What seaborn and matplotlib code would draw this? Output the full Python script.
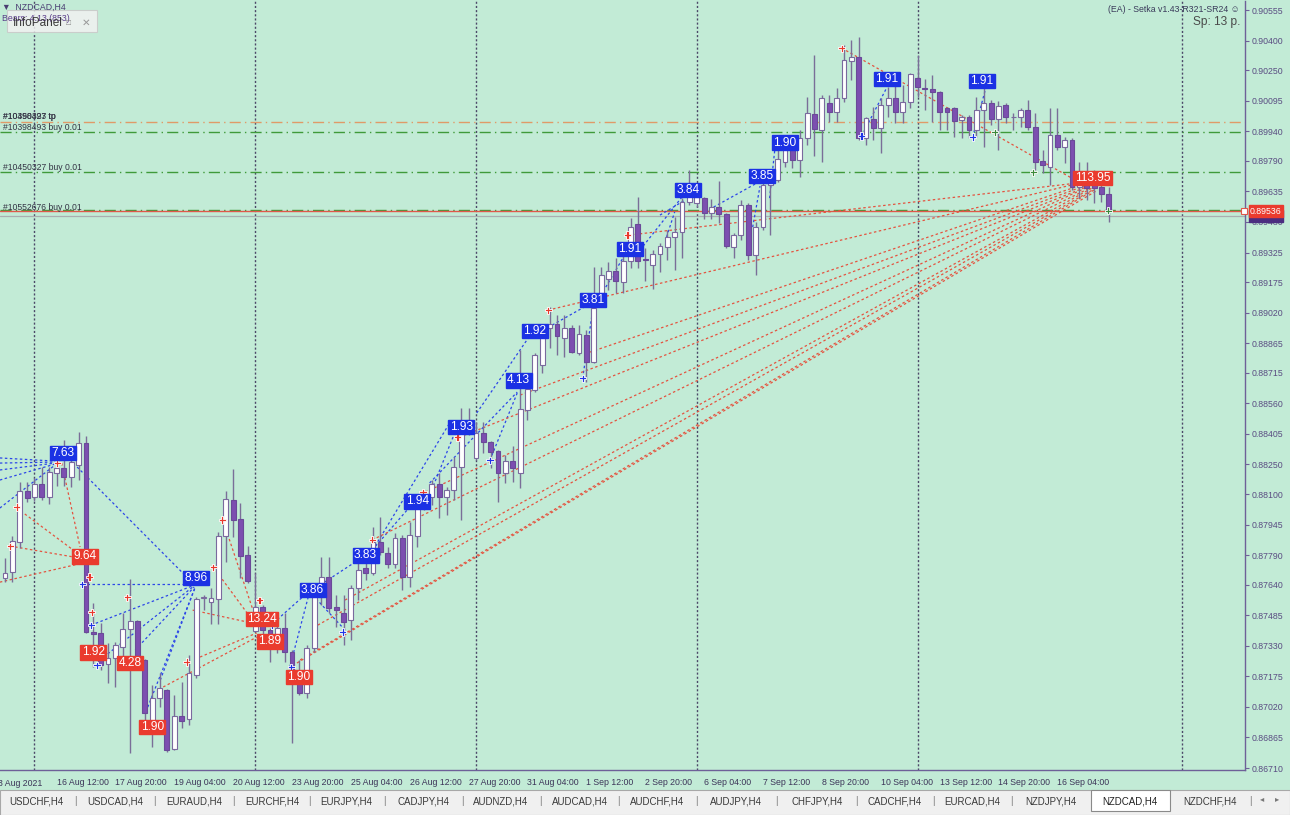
import numpy as np
import pandas as pd
import matplotlib
matplotlib.use('Agg')
import matplotlib.pyplot as plt
import seaborn as sns

W, H = 1290, 815
BG = '#c2ebd6'

# NZDCAD H4 candles, prices in points (price * 1e5), one entry per bar
opens = [87674, 87704, 87856, 88115, 88085, 88151, 88085, 88206, 88232, 88186,
         88247, 88359, 87400, 87395, 87238, 87268, 87324, 87415, 87456, 87258,
         86938, 87065, 87106, 86806, 86974, 86958, 87182, 87572, 87552, 87567,
         87887, 88069, 87973, 87790, 87405, 87527, 87410, 87374, 87420, 87298,
         87192, 87090, 87319, 87577, 87679, 87527, 87496, 87461, 87623, 87724,
         87699, 87856, 87801, 87745, 87877, 87679, 87887, 88054, 88085, 88151,
         88085, 88120, 88237, 88475, 88283, 88409, 88364, 88318, 88206, 88267,
         88206, 88526, 88628, 88754, 88942, 88962, 88891, 88942, 88815, 88907,
         88770, 89120, 89191, 89231, 89175, 89282, 89470, 89292, 89262, 89317,
         89353, 89404, 89429, 89581, 89576, 89601, 89525, 89556, 89520, 89353,
         89414, 89566, 89312, 89454, 89668, 89693, 89784, 89855, 89794, 89906,
         90028, 89947, 90084, 90038, 90109, 90296, 90317, 89906, 90002, 89957,
         90073, 90109, 90038, 90089, 90210, 90160, 90154, 90139, 90058, 90058,
         89997, 90012, 89947, 90048, 90084, 90002, 90073, 90012, 90012, 90048,
         89962, 89789, 89759, 89921, 89860, 89896, 89657, 89673, 89683, 89657,
         89622]
highs = [87775, 87887, 88161, 88161, 88181, 88237, 88237, 88283, 88374, 88323,
         88414, 88394, 87547, 87445, 87344, 87349, 87496, 87669, 87461, 87263,
         87131, 87192, 87111, 87080, 87146, 87283, 87577, 87588, 87623, 87907,
         88115, 88227, 88054, 87836, 87699, 87537, 87420, 87445, 87496, 87309,
         87258, 87334, 87598, 87780, 87780, 87588, 87588, 87638, 87750, 87755,
         87932, 87983, 87831, 87902, 87892, 87958, 88069, 88120, 88171, 88206,
         88135, 88288, 88536, 88536, 88465, 88465, 88369, 88323, 88298, 88343,
         88830, 88678, 88815, 88917, 89049, 89008, 89008, 88957, 88957, 88932,
         89252, 89252, 89277, 89297, 89312, 89500, 89607, 89348, 89338, 89373,
         89439, 89505, 89601, 89744, 89617, 89607, 89596, 89688, 89525, 89424,
         89591, 89576, 89480, 89683, 89718, 89860, 89906, 89896, 89947, 90114,
         90327, 90124, 90124, 90160, 90378, 90403, 90418, 90012, 90063, 90109,
         90165, 90175, 90175, 90236, 90327, 90205, 90225, 90144, 90063, 90063,
         90023, 90023, 90114, 90160, 90099, 90094, 90084, 90033, 90058, 90099,
         90033, 89845, 90058, 90058, 89911, 89906, 89784, 89784, 89744, 89668,
         89657]
lows = [87653, 87653, 87826, 88059, 88064, 88069, 88049, 88141, 88141, 88135,
        88171, 87395, 87222, 87207, 87141, 87121, 87273, 86786, 87248, 86953,
        86816, 87019, 86791, 86801, 86913, 86928, 87166, 87511, 87440, 87440,
        87755, 87882, 87674, 87648, 87400, 87385, 87248, 87293, 87248, 86837,
        87080, 87065, 87298, 87537, 87496, 87425, 87334, 87359, 87562, 87664,
        87689, 87790, 87724, 87724, 87613, 87628, 87831, 88019, 88044, 87978,
        87993, 88069, 87968, 88399, 88272, 88308, 88232, 88059, 88156, 88161,
        88130, 88475, 88617, 88714, 88841, 88805, 88795, 88815, 88805, 88668,
        88765, 89099, 89135, 89120, 89120, 89246, 89246, 89180, 89140, 89226,
        89287, 89236, 89297, 89566, 89556, 89495, 89495, 89475, 89348, 89297,
        89388, 89287, 89211, 89439, 89414, 89683, 89759, 89754, 89708, 89870,
        89815, 89784, 89987, 89987, 90089, 90200, 89896, 89870, 89896, 89830,
        90012, 89982, 89982, 90058, 90114, 90048, 89987, 89947, 89947, 89911,
        89906, 89906, 89911, 89860, 89972, 89845, 89982, 89947, 89962, 89947,
        89744, 89728, 89668, 89845, 89779, 89642, 89601, 89591, 89576, 89581,
        89480]
closes = [87699, 87861, 88115, 88080, 88151, 88085, 88212, 88232, 88186, 88262,
          88359, 87400, 87390, 87232, 87268, 87334, 87415, 87456, 87258, 86989,
          87065, 87116, 86801, 86974, 86948, 87192, 87567, 87577, 87572, 87887,
          88075, 87968, 87785, 87659, 87527, 87410, 87334, 87420, 87298, 87192,
          87090, 87319, 87577, 87679, 87522, 87511, 87451, 87623, 87714, 87699,
          87856, 87806, 87745, 87877, 87679, 87892, 88054, 88085, 88151, 88085,
          88120, 88237, 88465, 88409, 88409, 88364, 88313, 88206, 88267, 88232,
          88531, 88633, 88805, 88896, 88962, 88901, 88942, 88820, 88912, 88770,
          89043, 89211, 89231, 89180, 89282, 89454, 89282, 89287, 89317, 89358,
          89404, 89429, 89581, 89612, 89607, 89525, 89556, 89520, 89358, 89414,
          89566, 89312, 89454, 89668, 89693, 89799, 89855, 89794, 89906, 90033,
          89952, 90109, 90038, 90109, 90302, 90317, 89906, 90007, 89957, 90073,
          90109, 90038, 90089, 90231, 90165, 90154, 90139, 90038, 90038, 89992,
          90012, 89947, 90048, 90084, 90002, 90068, 90012, 90015, 90048, 89962,
          89784, 89769, 89921, 89860, 89896, 89657, 89673, 89652, 89652, 89622,
          89536]

tick_idx = [7, 15, 23, 31, 39, 47, 55, 63, 71, 79, 87, 95, 103, 111, 119, 127, 135, 143]
tick_lbl = ['16 Aug 12:00', '17 Aug 20:00', '19 Aug 04:00', '20 Aug 12:00', '23 Aug 20:00',
            '25 Aug 04:00', '26 Aug 12:00', '27 Aug 20:00', '31 Aug 04:00', '1 Sep 12:00',
            '2 Sep 20:00', '6 Sep 04:00', '7 Sep 12:00', '8 Sep 20:00', '10 Sep 04:00',
            '13 Sep 12:00', '14 Sep 20:00', '16 Sep 04:00']
separators = [4, 34, 64, 94, 124, 160]
price_lbl = ['0.90555', '0.90400', '0.90250', '0.90095', '0.89940', '0.89790', '0.89635',
             '0.89480', '0.89325', '0.89175', '0.89020', '0.88865', '0.88715', '0.88560',
             '0.88405', '0.88250', '0.88100', '0.87945', '0.87790', '0.87640', '0.87485',
             '0.87330', '0.87175', '0.87020', '0.86865', '0.86710']

# order lines
tp_level = 0.89985
buy_levels = [0.89936, 0.89733, 0.89540]
bid = 0.89536
ask_line = 0.89512

# trade labels (bar index, price, text)
blue_lab_x = [7.9, 25.95, 41.8, 49.0, 56.0, 62.0, 69.8, 72.0, 79.9, 84.9, 92.8, 102.9, 106.0, 119.8, 132.7]
blue_lab_p = [0.88308, 0.87674, 0.87613, 0.87790, 0.88064, 0.88440, 0.88678, 0.88927, 0.89084,
              0.89343, 0.89642, 0.89713, 0.89881, 0.90205, 0.90195]
blue_lab_t = ['7.63', '8.96', '3.86', '3.83', '1.94', '1.93', '4.13', '1.92', '3.81', '1.91',
              '3.84', '3.85', '1.90', '1.91', '1.91']
red_lab_x = [10.9, 12.0, 17.0, 20.0, 34.9, 36.0, 39.9, 147.8]
red_lab_p = [0.87785, 0.87298, 0.87243, 0.86918, 0.87466, 0.87354, 0.87172, 0.89703]
red_lab_t = ['9.64', '1.92', '4.28', '1.90', '13.24', '1.89', '1.90', '113.95']

# dotted trade links (x0, p0, x1, p1)
blue_x0 = [-0.7, -0.7, -0.7, -0.7, -0.7, 9.8, 10.5, 11.7, 12.9, 17.7, 19.4, 21.1, 36.0, 38.7, 46.2,
           42.8, 49.9, 57.7, 48.9, 57.7, 65.9, 64.1, 72.0, 78.5, 80.6, 86.3, 89.0, 89.9, 95.1,
           101.6, 103.9, 116.4, 131.5]
blue_p0 = [0.88283, 0.88257, 0.88222, 0.88171, 0.88029, 0.88237, 0.87643, 0.87435, 0.87258,
           0.87309, 0.87019, 0.87156, 0.87430, 0.87222, 0.87410, 0.87638, 0.87816, 0.88095,
           0.87750, 0.88156, 0.88272, 0.88511, 0.88907, 0.88688, 0.89084, 0.89338, 0.89515,
           0.89404, 0.89531, 0.89454, 0.89601, 0.89916, 0.89911]
blue_x1 = [6.8, 6.8, 6.8, 6.8, 6.8, 24.7, 25.4, 25.4, 25.5, 25.7, 25.8, 25.8, 40.9, 41.2, 41.8,
           48.0, 55.0, 61.1, 60.5, 69.6, 69.6, 71.1, 79.2, 79.9, 84.2, 92.0, 92.4, 91.0, 102.2,
           102.6, 104.6, 119.8, 133.2]
blue_p1 = [0.88267, 0.88262, 0.88257, 0.88252, 0.88247, 0.87679, 0.87643, 0.87633, 0.87628,
           0.87628, 0.87623, 0.87623, 0.87593, 0.87577, 0.87588, 0.87765, 0.88034, 0.88409,
           0.88465, 0.88617, 0.88612, 0.88891, 0.89059, 0.89043, 0.89312, 0.89607, 0.89591,
           0.89531, 0.89678, 0.89662, 0.89845, 0.90160, 0.90149]
red_x0 = [84.9, 73.8, 79.5, 70.0, 61.8, 57.1, 49.9, 46.2, 42.5, 40.1, 38.5, 113.7,
          1.6, 0.7, -0.7, 7.7, 25.5, 28.3, 29.6, 26.5, 21.5]
red_p0 = [0.89414, 0.89033, 0.88820, 0.88602, 0.88389, 0.88110, 0.87867, 0.87562, 0.87435,
          0.87258, 0.87217, 0.90362, 0.88029, 0.87836, 0.87653, 0.88257, 0.87511, 0.87729,
          0.87968, 0.87273, 0.87121]
red_x1 = [145.8, 146.1, 146.3, 146.6, 146.9, 147.1, 147.4, 147.7, 148.0, 148.2, 148.5, 145.4,
          10.2, 10.2, 10.6, 10.2, 32.9, 33.3, 33.7, 34.2, 34.2]
red_p1 = [0.89678, 0.89678, 0.89668, 0.89662, 0.89657, 0.89657, 0.89652, 0.89652, 0.89647,
          0.89647, 0.89642, 0.89693, 0.87790, 0.87775, 0.87750, 0.87831, 0.87451, 0.87476,
          0.87511, 0.87395, 0.87374]

# entry arrows
red_mk_x = [1.6, 0.7, 7.1, 11.5, 11.8, 16.6, 24.7, 29.5, 28.3, 34.6, 49.9, 56.8, 61.5, 73.8, 84.6, 113.7]
red_mk_p = [0.88034, 0.87836, 0.88257, 0.87679, 0.87501, 0.87577, 0.87248, 0.87968, 0.87729,
            0.87562, 0.87867, 0.88110, 0.88389, 0.89033, 0.89414, 0.90362]
blue_mk_x = [10.5, 11.7, 12.5, 36.3, 38.9, 45.9, 65.9, 78.5, 116.4, 131.5]
blue_mk_p = [0.87643, 0.87435, 0.87232, 0.87435, 0.87222, 0.87400, 0.88272, 0.88688, 0.89916, 0.89911]
green_mk_x = [139.7, 149.9, 134.5]
green_mk_p = [0.89733, 0.89536, 0.89936]

tabs = ['USDCHF,H4', 'USDCAD,H4', 'EURAUD,H4', 'EURCHF,H4', 'EURJPY,H4', 'CADJPY,H4',
        'AUDNZD,H4', 'AUDCAD,H4', 'AUDCHF,H4', 'AUDJPY,H4', 'CHFJPY,H4', 'CADCHF,H4',
        'EURCAD,H4', 'NZDJPY,H4', 'NZDCAD,H4', 'NZDCHF,H4']
tab_centers = [36, 115, 194, 272, 346, 423, 501, 580, 657, 736, 817, 895, 972, 1051, 1130, 1210]


def fx(x):
    return x / W


def fy(y):
    return 1 - y / H


sns.set_style('white', {'axes.facecolor': BG, 'figure.facecolor': BG})
plt.rcParams['font.family'] = ['Liberation Sans', 'DejaVu Sans']

df = pd.DataFrame({'o': opens, 'h': highs, 'l': lows, 'c': closes}) / 1e5
df['i'] = np.arange(len(df))
df['bull'] = df['c'] >= df['o']

fig = plt.figure(figsize=(W / 100, H / 100), dpi=100, facecolor=BG)
ax = fig.add_axes([0, fy(770), fx(1245), (770 - 1) / H])
ax.set_facecolor(BG)

ax.set_xlim(-0.68, 168.5)
ax.set_ylim(0.86700, 0.90601)

for s in separators:
    ax.axvline(s, color='#4c4868', ls=(0, (1.5, 1.5)), lw=1.0, zorder=1)

# order levels
ax.axhline(tp_level, color='#e09a68', ls=(0, (8, 3, 1, 3)), lw=1.0, zorder=1)
for lv in buy_levels:
    ax.axhline(lv, color='#3f9a3a', ls=(0, (8, 3, 1, 3)), lw=1.0, zorder=1)
ax.axhline(ask_line, color='#a9aeb0', lw=0.9, zorder=1)
ax.axhline(bid, color='#e0584a', lw=1.0, zorder=1)

# dotted links
for x0, p0, x1, p1 in zip(blue_x0, blue_p0, blue_x1, blue_p1):
    ax.plot([x0, x1], [p0, p1], color='#2c46e8', ls=(0, (2, 2)), lw=0.9, zorder=2)
for x0, p0, x1, p1 in zip(red_x0, red_p0, red_x1, red_p1):
    ax.plot([x0, x1], [p0, p1], color='#e4533f', ls=(0, (2, 2)), lw=0.9, zorder=2)

# candles
ax.vlines(df['i'], df['l'], df['h'], color='#7a6e98', lw=1.0, zorder=3)
body_lo = df[['o', 'c']].min(axis=1)
body_h = (df['c'] - df['o']).abs().clip(lower=0.000025)
ax.bar(df['i'], body_h, bottom=body_lo, width=0.66,
       color=np.where(df['bull'], '#ffffff', '#7c4fb0'),
       edgecolor=np.where(df['bull'], '#7a6a9e', '#6a4a98'), linewidth=0.8, zorder=4)

# arrows
mk = pd.DataFrame({'x': red_mk_x + blue_mk_x + green_mk_x,
                   'p': red_mk_p + blue_mk_p + green_mk_p,
                   'k': ['r'] * len(red_mk_x) + ['b'] * len(blue_mk_x) + ['g'] * len(green_mk_x)})
sns.scatterplot(data=mk, x='x', y='p', hue='k', palette={'r': '#e8392c', 'b': '#1f35e6', 'g': '#3b8a3a'},
                marker='P', s=26, edgecolor='white', linewidth=0.6, legend=False, ax=ax, zorder=6)
ax.set_xlabel('')
ax.set_ylabel('')

for x, p, t in zip(blue_lab_x, blue_lab_p, blue_lab_t):
    ax.text(x, p, t, ha='center', va='center', color='white', fontsize=8.6, zorder=8,
            bbox=dict(boxstyle='square,pad=0.12', fc='#1b31e4', ec='#1b31e4'))
for x, p, t in zip(red_lab_x, red_lab_p, red_lab_t):
    ax.text(x, p, t, ha='center', va='center', color='white', fontsize=8.6, zorder=8,
            bbox=dict(boxstyle='square,pad=0.12', fc='#ea3b2e', ec='#ea3b2e'))

# axes frame and ticks
for side in ['top', 'left']:
    ax.spines[side].set_visible(False)
for side in ['right', 'bottom']:
    ax.spines[side].set_color('#6e6098')
    ax.spines[side].set_linewidth(1.0)
ax.yaxis.tick_right()
ax.set_yticks([float(v) for v in price_lbl])
ax.set_yticklabels(price_lbl)
ax.tick_params(axis='y', direction='out', length=3, width=0.8, colors='#6e6098',
               labelcolor='#5a4c82', labelsize=6.3, pad=2)
ax.set_xticks(tick_idx)
ax.set_xticklabels(tick_lbl, ha='left')
ax.tick_params(axis='x', direction='out', length=3, width=0.8, colors='#6e6098',
               labelcolor='#3c3458', labelsize=6.3, pad=2.5)
ax.text(-1.6, -0.012, '13 Aug 2021', transform=ax.get_xaxis_transform(), ha='left', va='top',
        fontsize=6.3, color='#3c3458', clip_on=False)

# order labels
fs = 6.2
fig.text(fx(3), fy(119), '#10450327 tp', fontsize=fs, color='#333344')
fig.text(fx(3), fy(119), '#10398493 tp', fontsize=fs, color='#333344')
fig.text(fx(3), fy(130), '#10398493 buy 0.01', fontsize=fs, color='#333344')
fig.text(fx(3), fy(170), '#10450327 buy 0.01', fontsize=fs, color='#333344')
fig.text(fx(3), fy(210), '#10552676 buy 0.01', fontsize=fs, color='#333344')

# price markers at the right scale
fig.text(fx(1266), fy(216), '0.89512', fontsize=6.3, color='white', ha='center', va='center',
         bbox=dict(boxstyle='square,pad=0.15', fc='#4b2d80', ec='#4b2d80'))
fig.text(fx(1266), fy(211), '0.89536', fontsize=6.3, color='white', ha='center', va='center',
         bbox=dict(boxstyle='square,pad=0.15', fc='#ea3b2e', ec='#ea3b2e'))
fig.patches.append(plt.Rectangle((fx(1241), fy(214)), 6 / W, 6 / H, transform=fig.transFigure,
                                 fc='white', ec='#e0584a', lw=0.8))

# header texts
fig.text(fx(2), fy(10), '\u25bc  NZDCAD,H4', fontsize=6.3, color='#4a3d72')
fig.text(fx(2), fy(21), 'Bears: 4.13 (853)', fontsize=6.3, color='#5a3d8a')
fig.patches.append(plt.Rectangle((fx(7), fy(32)), 90 / W, 22 / H, transform=fig.transFigure,
                                 fc='#f2f2f2', ec='#c8c8c8', lw=0.8, alpha=0.85))
fig.text(fx(13), fy(26), 'InfoPanel', fontsize=8.5, color='#3a3a3a')
fig.text(fx(66), fy(25), '\u25a1', fontsize=6, color='#888888')
fig.text(fx(82), fy(26), '\u2715', fontsize=7.5, color='#999999')
fig.text(fx(1240), fy(12), '(EA) - Setka v1.43-R321-SR24 \u263a', fontsize=6.3, color='#3a3a5a', ha='right')
fig.text(fx(1240), fy(25), 'Sp: 13 p.', fontsize=8.6, color='#4a4a4a', ha='right')

# symbol tabs
fig.patches.append(plt.Rectangle((0, 0), 1, 25 / H, transform=fig.transFigure,
                                 fc='#f0f0f0', ec='#a8a8a8', lw=0.8))
fig.patches.append(plt.Rectangle((fx(1091), fy(811)), 79 / W, 21 / H, transform=fig.transFigure,
                                 fc='white', ec='#8a8a8a', lw=0.8))
for c, t in zip(tab_centers, tabs):
    fig.text(fx(c), fy(801), t, fontsize=7, color='#222222' if t == 'NZDCAD,H4' else '#3a3a3a',
             ha='center', va='center')
for k in range(len(tab_centers) - 1):
    mid = (tab_centers[k] + tab_centers[k + 1]) / 2
    if tabs[k + 1] != 'NZDCAD,H4' and tabs[k] != 'NZDCAD,H4':
        fig.text(fx(mid), fy(801), '|', fontsize=7, color='#777777', ha='center', va='center')
fig.text(fx(1250), fy(801), '|', fontsize=7, color='#777777', ha='center', va='center')
fig.text(fx(1262), fy(800), '\u25c2', fontsize=6, color='#777777', ha='center', va='center')
fig.text(fx(1277), fy(800), '\u25b8', fontsize=6, color='#777777', ha='center', va='center')

fig.savefig('out.png', dpi=100, facecolor=BG)
